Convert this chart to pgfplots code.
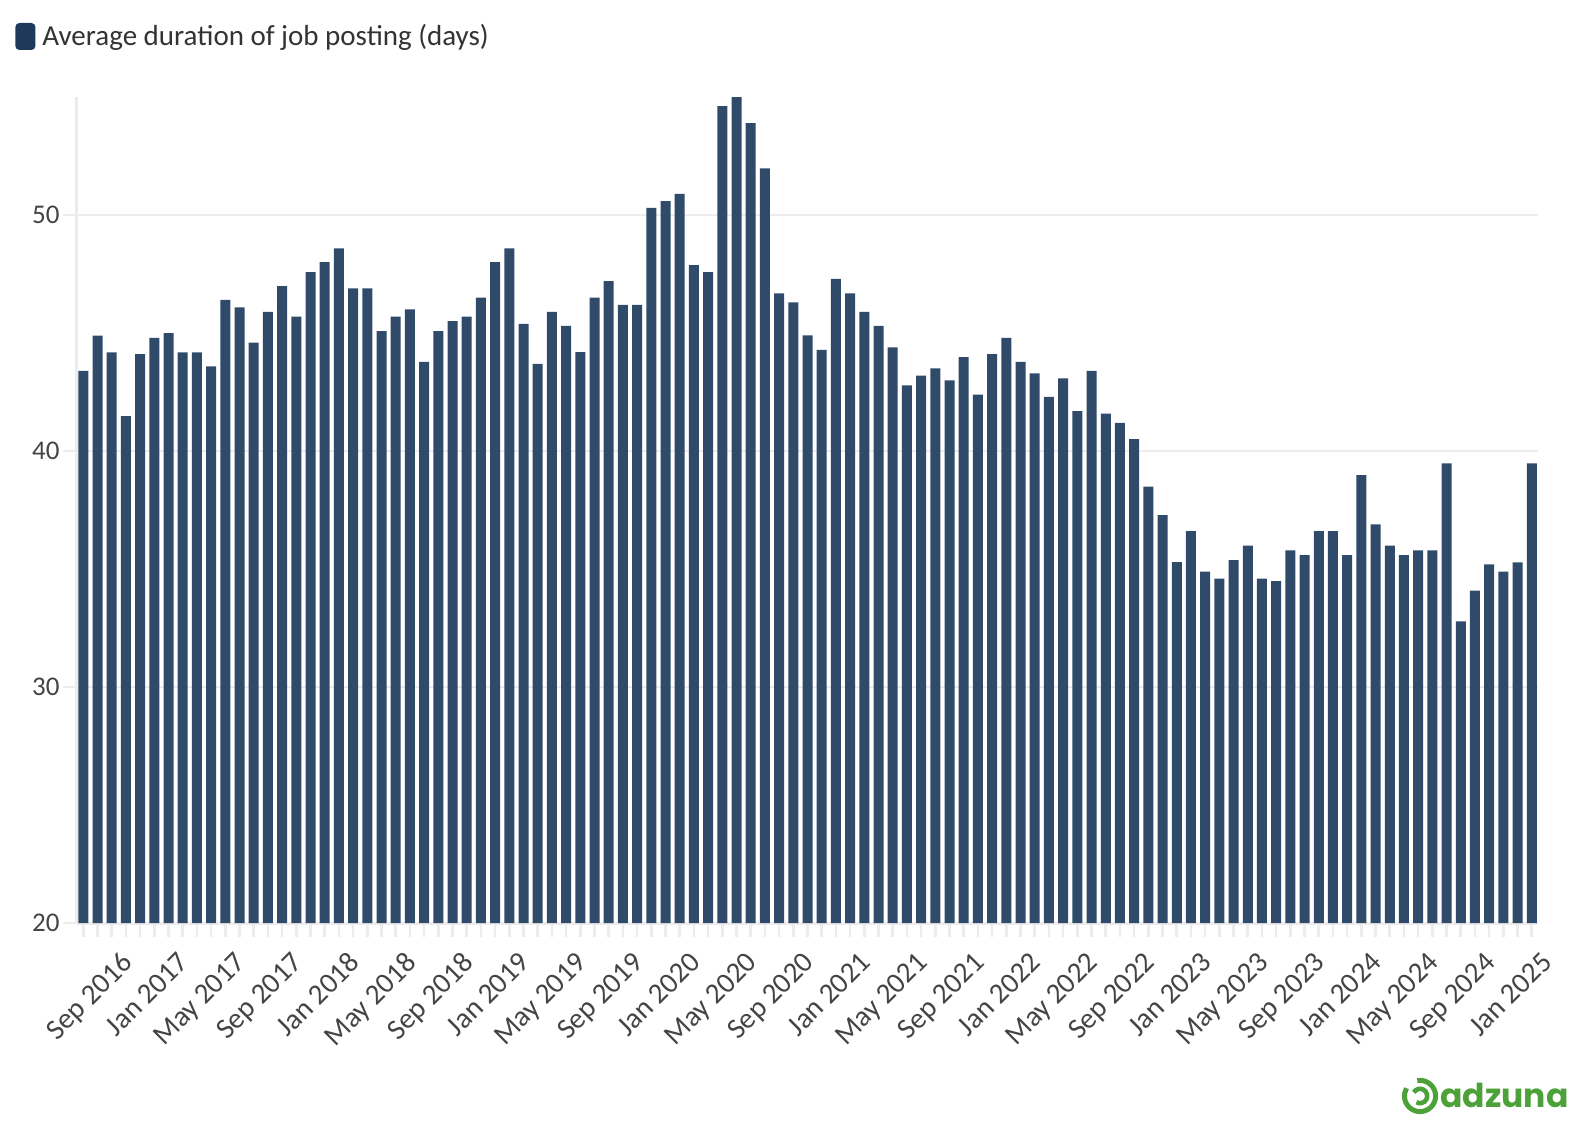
\documentclass[border=0pt]{standalone}
\usepackage{fontspec}
\setmainfont{Carlito}
\newfontfamily\logofont{Poppins}
\usepackage{pgfplots}
\usepackage{pgfplotstable}
\pgfplotsset{compat=1.18}
\definecolor{barcol}{RGB}{47,75,105}
\definecolor{legcol}{RGB}{29,58,90}
\definecolor{gridcol}{RGB}{236,236,236}
\definecolor{tickcol}{RGB}{68,68,68}
\definecolor{txtcol}{RGB}{51,51,51}
\definecolor{adz}{RGB}{77,161,57}
\pgfplotstableread{
x y
1 43.39
2 44.89
3 44.18
4 41.48
5 44.10
6 44.79
7 44.99
8 44.18
9 44.18
10 43.59
11 46.40
12 46.09
13 44.59
14 45.89
15 46.99
16 45.69
17 47.58
18 48.00
19 48.59
20 46.89
21 46.89
22 45.08
23 45.69
24 46.00
25 43.78
26 45.08
27 45.50
28 45.69
29 46.50
30 48.00
31 48.59
32 45.39
33 43.69
34 45.89
35 45.30
36 44.19
37 46.50
38 47.20
39 46.19
40 46.19
41 50.30
42 50.59
43 50.89
44 47.88
45 47.58
46 54.61
47 54.99
48 53.89
49 51.98
50 46.68
51 46.30
52 44.90
53 44.29
54 47.29
55 46.68
56 45.89
57 45.30
58 44.39
59 42.78
60 43.19
61 43.50
62 42.99
63 43.98
64 42.39
65 44.10
66 44.79
67 43.78
68 43.29
69 42.29
70 43.08
71 41.69
72 43.39
73 41.58
74 41.19
75 40.50
76 38.49
77 37.28
78 35.29
79 36.60
80 34.89
81 34.59
82 35.38
83 35.99
84 34.59
85 34.49
86 35.79
87 35.59
88 36.60
89 36.60
90 35.59
91 38.98
92 36.89
93 35.99
94 35.59
95 35.79
96 35.79
97 39.48
98 32.78
99 34.08
100 35.20
101 34.89
102 35.28
103 39.48
}\durationdata
\begin{document}
\begin{tikzpicture}
\useasboundingbox (0,0) rectangle (789pt,570pt);
\begin{axis}[
  at={(38.5pt,108.5pt)}, anchor=south west,
  scale only axis, width=730.5pt, height=413pt,
  xmin=0.556, xmax=103.44, ymin=20, ymax=55,
  axis lines*=left,
  axis line style={draw=gridcol, line width=1.5pt},
  ytick={20,30,40,50},
  ymajorgrids, grid style={draw=gridcol, line width=1.4pt},
  xtick={3,7,...,103},
  minor xtick={1,2,...,103},
  xticklabels={Sep 2016,Jan 2017,May 2017,Sep 2017,Jan 2018,May 2018,Sep 2018,Jan 2019,May 2019,Sep 2019,Jan 2020,May 2020,Sep 2020,Jan 2021,May 2021,Sep 2021,Jan 2022,May 2022,Sep 2022,Jan 2023,May 2023,Sep 2023,Jan 2024,May 2024,Sep 2024,Jan 2025},
  tick align=outside,
  major tick length=7pt, minor tick length=7pt,
  tick style={draw=gridcol, line width=1.3pt},
  minor tick style={draw=gridcol, line width=1.3pt},
  /pgf/number format/assume math mode=true,
  yticklabel style={font=\fontsize{13.5}{15}\selectfont, text=tickcol, inner sep=0pt, xshift=-1.5pt},
  xticklabel style={font=\fontsize{14.5}{16}\selectfont, text=tickcol, xshift=4.2pt, yshift=-6.5pt, rotate=45, anchor=north east, inner sep=0pt},
  legend style={at={(axis description cs:0,1)}, anchor=north west, xshift=-31pt, yshift=38pt,
    draw=none, fill=none, inner sep=0pt, font=\fontsize{14.5}{17}\selectfont, text=txtcol,
    legend cell align=left, nodes={inner sep=1.5pt}},
  legend image code/.code={\fill[legcol, rounded corners=2pt] (0pt,-6.75pt) rectangle (10pt,6.75pt); \path (12pt,0pt);},
  clip=true,
]
\addplot[ybar, bar width=5pt, fill=barcol, draw=none] table[x=x, y=y] {\durationdata};
\addlegendentry{Average duration of job posting (days)}
\end{axis}
% logo
\draw[adz, line width=2.5pt] (710pt,22pt) ++(100:7.8pt) arc[start angle=100, end angle=-210, radius=7.8pt];
\draw[adz, line width=2.3pt] (710pt,22pt) ++(150:3.6pt) arc[start angle=150, end angle=-120, radius=3.6pt];
\node[anchor=base west, inner sep=0pt, text=adz] at (720pt,16.5pt) {\logofont\bfseries\fontsize{16.5}{18}\selectfont adzuna};
\end{tikzpicture}
\end{document}
